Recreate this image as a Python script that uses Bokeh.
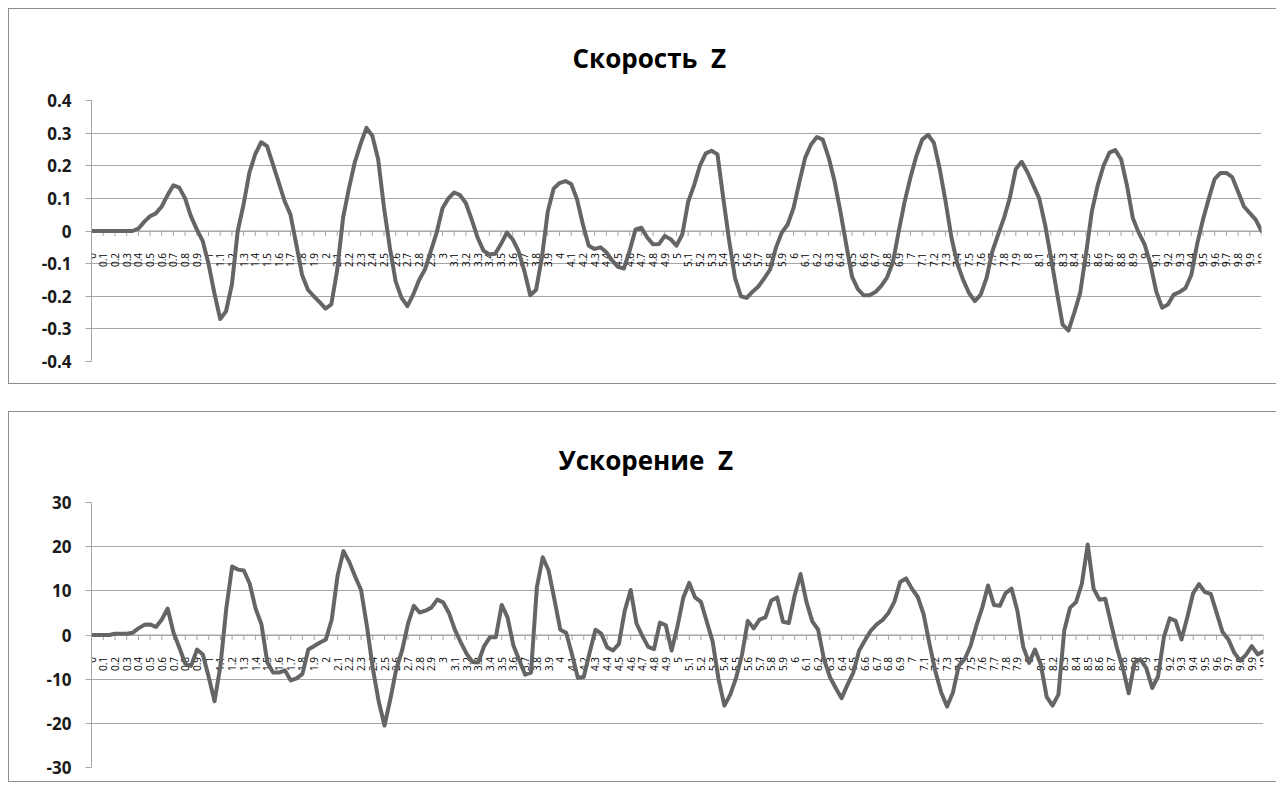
import math
from bokeh.plotting import figure
from bokeh.models import Range1d, FixedTicker, Spacer, Span
from bokeh.layouts import column, row
from bokeh.core.properties import value
from bokeh.embed import file_html
from bokeh.resources import INLINE

# ---------------- data ----------------
# category labels (time, s) shown on both charts
x_labels = [f"{k / 10:g}" for k in range(101)]

# samples every 0.05 s (two per category step)
speed_z = [
    0, 0, 0, 0, 0, 0, 0, 0, 0.007, 0.028,
    0.045, 0.054, 0.075, 0.11, 0.14, 0.133, 0.1, 0.045, 0.005, -0.03,
    -0.1, -0.19, -0.27, -0.246, -0.164, 0, 0.082, 0.18, 0.236, 0.272,
    0.26, 0.205, 0.149, 0.092, 0.051, -0.04, -0.135, -0.18, -0.2, -0.218,
    -0.238, -0.225, -0.12, 0.04, 0.13, 0.21, 0.267, 0.316, 0.292, 0.22,
    0.072, -0.051, -0.155, -0.205, -0.23, -0.195, -0.15, -0.118, -0.062, -0.005,
    0.07, 0.1, 0.118, 0.11, 0.085, 0.035, -0.02, -0.06, -0.072, -0.07,
    -0.04, -0.005, -0.026, -0.062, -0.123, -0.197, -0.18, -0.08, 0.06, 0.13,
    0.147, 0.153, 0.144, 0.097, 0.02, -0.045, -0.055, -0.05, -0.065, -0.09,
    -0.11, -0.115, -0.06, 0.005, 0.01, -0.02, -0.041, -0.04, -0.015, -0.025,
    -0.045, -0.01, 0.09, 0.14, 0.2, 0.238, 0.246, 0.235, 0.1, -0.03,
    -0.144, -0.2, -0.205, -0.186, -0.17, -0.145, -0.118, -0.051, -0.005, 0.02,
    0.07, 0.15, 0.225, 0.265, 0.288, 0.28, 0.226, 0.154, 0.062, -0.04,
    -0.14, -0.178, -0.197, -0.197, -0.187, -0.168, -0.142, -0.095, 0.0, 0.09,
    0.165, 0.23, 0.28, 0.295, 0.27, 0.19, 0.09, -0.02, -0.1, -0.15,
    -0.19, -0.215, -0.195, -0.144, -0.062, -0.01, 0.041, 0.103, 0.19, 0.212,
    0.18, 0.14, 0.1, 0.02, -0.08, -0.185, -0.287, -0.305, -0.25, -0.19,
    -0.07, 0.06, 0.14, 0.2, 0.24, 0.248, 0.22, 0.14, 0.04, -0.005,
    -0.04, -0.1, -0.185, -0.235, -0.225, -0.195, -0.187, -0.175, -0.135, -0.04,
    0.035, 0.1, 0.16, 0.178, 0.178, 0.165, 0.12, 0.075, 0.055, 0.035,
    0,
]

accel_z = [
    0, 0, 0, 0, 0.3, 0.3, 0.3, 0.5, 1.5, 2.3,
    2.4, 1.8, 3.5, 6.0, 0.5, -2.9, -6.5, -7.0, -3.3, -4.4,
    -9.5, -15.0, -7.0, 6.0, 15.5, 14.8, 14.6, 11.6, 6.0, 2.4,
    -6.2, -8.5, -8.5, -8.0, -10.3, -9.8, -8.8, -3.3, -2.5, -1.7,
    -1.0, 3.5, 13.5, 19.0, 16.5, 13.2, 10.2, 2.0, -7.5, -15.0,
    -20.5, -14.5, -7.8, -3.5, 2.5, 6.6, 5.1, 5.5, 6.2, 8.0,
    7.4, 5.0, 1.2, -1.6, -4.2, -6.1, -6.2, -2.5, -0.5, -0.5,
    6.8, 4.0, -2.4, -5.7, -9.0, -8.5, 10.8, 17.6, 14.6, 8.0,
    1.2, 0.5, -4.4, -9.7, -9.5, -4.0, 1.2, 0.3, -2.8, -3.5,
    -2.0, 5.5, 10.2, 2.6, -0.2, -2.7, -3.2, 2.8, 2.2, -3.5,
    2.0, 8.5, 11.8, 8.5, 7.5, 3.0, -1.5, -10.0, -16.0, -13.5,
    -9.7, -4.5, 3.2, 1.5, 3.5, 4.0, 7.8, 8.5, 3.0, 2.7,
    9.0, 13.8, 7.5, 3.1, 1.2, -5.5, -9.5, -12.0, -14.3, -11.3,
    -8.5, -3.5, -1.2, 1.0, 2.4, 3.4, 5.0, 7.5, 12.0, 12.8,
    10.5, 8.6, 4.7, -2.0, -8.2, -13.0, -16.2, -13.0, -7.0, -5.5,
    -2.5, 2.1, 6.2, 11.2, 6.8, 6.6, 9.5, 10.5, 5.5, -2.7,
    -6.3, -3.3, -6.7, -14.0, -16.0, -13.5, 1.0, 6.2, 7.4, 11.6,
    20.5, 10.5, 8.0, 8.2, 2.5, -3.0, -7.5, -13.2, -6.2, -5.5,
    -7.5, -12.0, -9.4, -0.5, 3.8, 3.2, -1.0, 4.0, 9.5, 11.5,
    9.7, 9.3, 5.0, 0.7, -1.0, -4.0, -5.8, -4.5, -2.5, -4.4,
    -3.7,
]

speed_ticks = [-0.4, -0.3, -0.2, -0.1, 0, 0.1, 0.2, 0.3, 0.4]
speed_tick_labels = ["-0.4", "-0.3", "-0.2", "-0.1", "0", "0.1", "0.2", "0.3", "0.4"]
accel_ticks = [-30, -20, -10, 0, 10, 20, 30]
accel_tick_labels = ["-30", "-20", "-10", "0", "10", "20", "30"]

titles = ["Скорость  Z", "Ускорение  Z"]

# ---------------- styling ----------------
GRID = "#a6a6a6"
LINE = "#656565"
FONT = "Open Sans"
BORDER = "1px solid #8e8e8e"


def build(title, yvals, yticks, ylabels, fw, fh, bl, bt, bb, br, title_offset):
    ymin, ymax = yticks[0], yticks[-1]
    n_cat = len(x_labels)
    p = figure(
        frame_width=fw, frame_height=fh,
        x_range=Range1d(0, n_cat - 1), y_range=Range1d(ymin, ymax),
        min_border_left=bl, min_border_top=bt, min_border_bottom=bb,
        min_border_right=br,
        output_backend="svg", toolbar_location=None,
        background_fill_color="white", border_fill_color="white",
    )
    p.outline_line_color = None

    p.title.text = title.replace("  ", "\u00a0 ")
    p.title.align = "left"
    p.title.offset = title_offset
    p.title.vertical_align = "bottom"
    p.title.standoff = 50
    p.title.text_font = FONT
    p.title.text_font_style = "bold"
    p.title.text_font_size = "26px"
    p.title.text_color = "#000000"

    # category axis drawn along y = 0
    p.xaxis.visible = False
    p.xgrid.visible = False
    p.add_layout(Span(location=0, dimension="width", line_color=GRID,
                      line_width=1, level="underlay"))

    p.yaxis.ticker = FixedTicker(ticks=yticks)
    p.yaxis.major_label_overrides = dict(zip(yticks, ylabels))
    p.yaxis.major_label_text_font = FONT
    p.yaxis.major_label_text_font_style = "bold"
    p.yaxis.major_label_text_font_size = "17px"
    p.yaxis.major_label_text_color = "#1a1a1a"
    p.yaxis.major_label_standoff = 14
    p.yaxis.major_tick_in = 0
    p.yaxis.major_tick_out = 6
    p.yaxis.minor_tick_line_color = None
    p.yaxis.axis_line_color = GRID
    p.yaxis.major_tick_line_color = GRID
    p.ygrid.ticker = FixedTicker(ticks=yticks)
    p.ygrid.grid_line_color = GRID
    p.ygrid.grid_line_width = 1

    cats = list(range(n_cat))
    # tick marks hanging down from the zero line
    p.ray(x=cats, y=[0] * n_cat, length=5, length_units="screen",
          angle=-math.pi / 2, line_color=GRID, line_width=1)
    # rotated category labels
    p.text(x=cats, y=[0] * n_cat, text=x_labels,
           angle=math.pi / 2, text_align="right", text_baseline="middle",
           text_font=value(FONT), text_font_size="10px", text_color="#000000",
           y_offset=22)

    xs = [k * (n_cat - 1) / (len(yvals) - 1) for k in range(len(yvals))]
    p.line(xs, yvals, line_width=4, line_color=LINE, line_join="round",
           line_cap="round")
    p.styles = {"border-left": BORDER, "border-top": BORDER,
                "border-bottom": BORDER}
    return p


p1 = build(titles[0], speed_z, speed_ticks, speed_tick_labels,
           fw=1169, fh=259, bl=82, bt=91, bb=24, br=16, title_offset=481)
p2 = build(titles[1], accel_z, accel_ticks, accel_tick_labels,
           fw=1171, fh=263, bl=78, bt=90, bb=16, br=18, title_offset=467)

layout = row(
    Spacer(width=8),
    column(Spacer(height=8), p1, Spacer(height=27), p2, spacing=0),
    spacing=0,
)

with open("out.html", "w") as f:
    f.write(file_html(layout, INLINE))
